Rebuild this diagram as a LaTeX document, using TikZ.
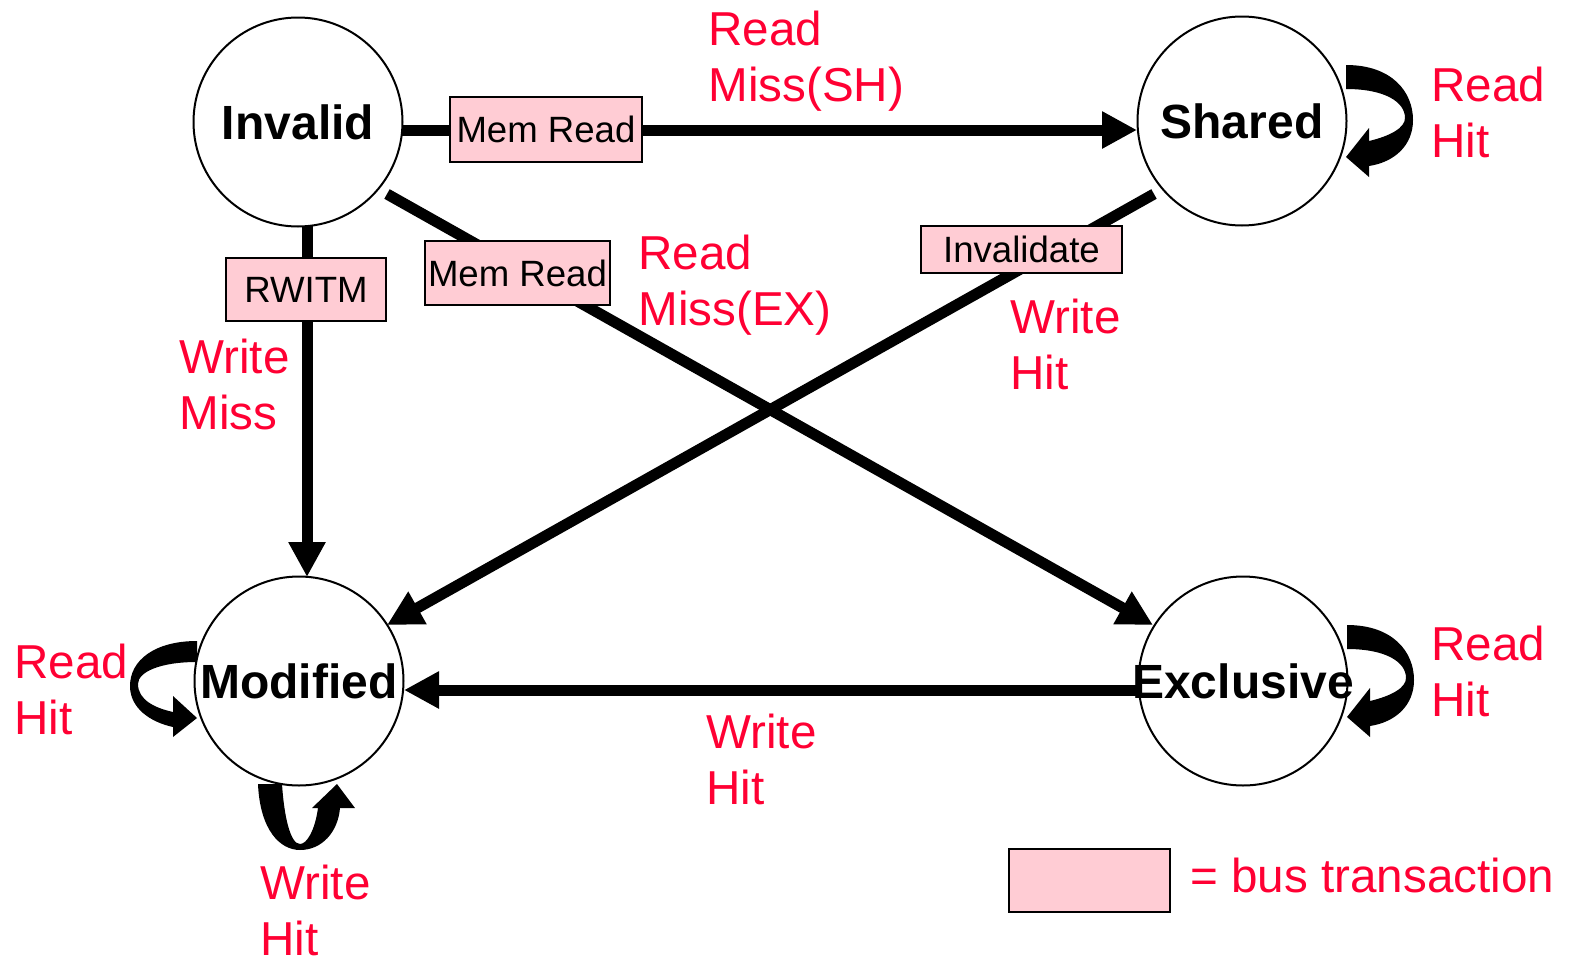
\documentclass[tikz,border=0pt]{standalone}
\usepackage{fontspec}
\setmainfont{Liberation Sans}
\usetikzlibrary{arrows.meta}
\definecolor{lblred}{RGB}{255,0,51}
\definecolor{buspink}{RGB}{255,204,212}

\tikzset{
  state/.style={circle, draw, line width=1pt, minimum size=104.5pt, inner sep=0pt,
                font=\fontsize{24}{28}\selectfont\bfseries},
  bus/.style={draw, line width=1pt, fill=buspink, inner sep=0pt,
              font=\fontsize{18.3}{21}\selectfont},
  trans/.style={line width=5.5pt, -{Triangle[length=17.5pt,width=17.5pt]}},
  % base west of a two-line label sits on the baseline of its last line
  lbl/.style={text=lblred, align=left, anchor=base west, inner sep=0pt,
              font=\fontsize{23.8}{28}\selectfont},
  % thick curved self-loop arrow opening to the right
  rloop/.pic={
    \fill (0,0) .. controls (46,0) and (67,27) .. (67,55)
          .. controls (67,80) and (49,97) .. (23,101)
          -- (23,112) -- (0,92) -- (23,63) -- (23,76)
          .. controls (44,71) and (59,63) .. (59,53)
          .. controls (59,37) and (39,24) .. (0,24) -- cycle;
  },
}
% state names may overhang their circle without enlarging it
\newcommand{\statename}[1]{\makebox[0pt][c]{#1}}

\begin{document}
\begin{tikzpicture}[x=0.5pt, y=-0.5pt]
\useasboundingbox (0,0) rectangle (1569,959);

% states
\node[state] (inv) at (298,122) {\statename{Invalid}};
\node[state] (sh)  at (1242,121) {\statename{Shared}};
\node[state] (mod) at (299,681) {\statename{Modified}};
\node[state] (exc) at (1243,681) {\statename{Exclusive}};

% transitions
\draw[trans] ([shift={(104,8)}]inv.center) -- ([shift={(-105,9)}]sh.center);
\draw[trans] ([shift={(9,104)}]inv.center) -- ([shift={(8,-104)}]mod.center);
\draw[trans] ([shift={(89,72)}]inv.center) -- ([shift={(-90,-56)}]exc.center);
\draw[trans] ([shift={(-88,73)}]sh.center) -- ([shift={(88,-56)}]mod.center);
\draw[trans] ([shift={(-105,9)}]exc.center) -- ([shift={(105,9)}]mod.center);

% self loops
\pic at (1346,65) {rloop};
\pic at (1347,625) {rloop};
\fill (197,641) .. controls (155,641) and (130,660) .. (130,686)
      .. controls (130,708) and (150,722) .. (173,727)
      -- (173,737) -- (197,718) -- (173,696) -- (173,712)
      .. controls (155,708) and (138,700) .. (138,684)
      .. controls (138,672) and (160,662) .. (197,662) -- cycle;
\fill (258,784) .. controls (260,830) and (280,850) .. (300,850)
      .. controls (322,850) and (338,832) .. (340,808)
      -- (355,808) -- (337,784) -- (312,808) -- (318,808)
      .. controls (315,830) and (307,844) .. (300,844)
      .. controls (290,844) and (284,815) .. (282,784) -- cycle;

% bus transactions
\node[bus, minimum width=96pt, minimum height=32.5pt] (mr1) at (546,129.5) {Mem Read};
\node[bus, minimum width=80pt, minimum height=31.5pt] (rw) at (306,289.5) {RWITM};
\node[bus, minimum width=92.5pt, minimum height=32pt] (mr2) at (517.5,273) {Mem Read};
\node[bus, minimum width=100.5pt, minimum height=23.5pt] (iv) at (1021.5,249.5) {Invalidate};

% event labels
\node[lbl] (l1) at (708,101)  {Read\\Miss(SH)};
\node[lbl] (l2) at (1431,157) {Read\\Hit};
\node[lbl] (l3) at (638,325) {Read\\Miss(EX)};
\node[lbl] (l4) at (1010,389) {Write\\Hit};
\node[lbl] (l5) at (179,429) {Write\\Miss};
\node[lbl] (l6) at (14,734)  {Read\\Hit};
\node[lbl] (l7) at (1431,716) {Read\\Hit};
\node[lbl] (l8) at (706,804) {Write\\Hit};
\node[lbl] (l9) at (260,955) {Write\\Hit};

% legend
\node[bus, minimum width=80.5pt, minimum height=31.5pt] (key) at (1089.5,880.5) {};
\node[lbl] (keytxt) at (1190,892) {= bus transaction};
\end{tikzpicture}
\end{document}
